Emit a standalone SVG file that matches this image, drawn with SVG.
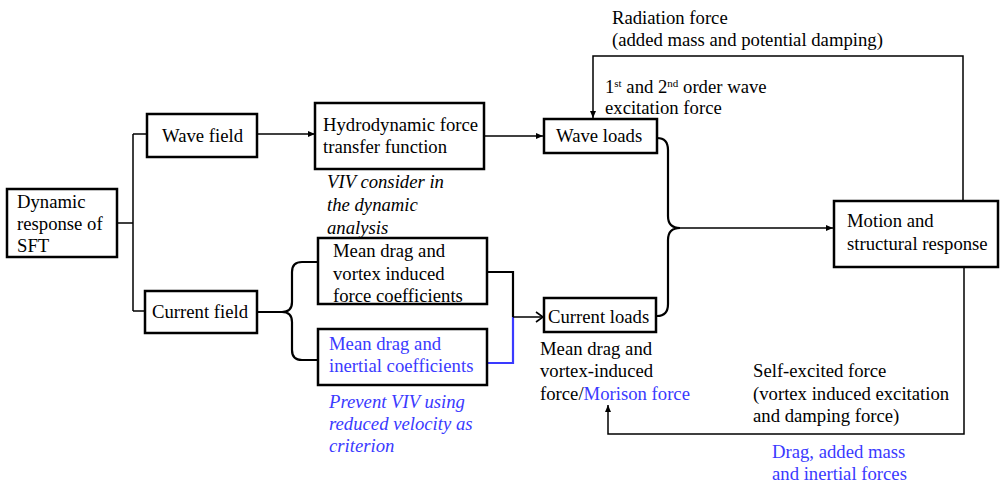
<svg xmlns="http://www.w3.org/2000/svg" width="1004" height="484" viewBox="0 0 1004 484">
<defs>
<style>
.box{fill:#fff;stroke:#000;stroke-width:2.5}
.t{font-size:18.7px;fill:#000}
.i{font-style:italic}
.b{fill:#3a3aff}
.c{fill:none;stroke:#000;stroke-width:1.5}
.br{fill:none;stroke:#000;stroke-width:2.2}
.bl{fill:none;stroke:#3a3aff;stroke-width:2.2}
</style>
<marker id="ah" markerWidth="8" markerHeight="8" refX="7" refY="4" orient="auto" markerUnits="userSpaceOnUse">
<path d="M0,1 L7,4 L0,7 Z" fill="#000"/>
</marker>
<marker id="oh" markerWidth="12" markerHeight="12" refX="10" refY="6" orient="auto" markerUnits="userSpaceOnUse">
<path d="M3,1 L10,6 L3,11" fill="none" stroke="#000" stroke-width="1.6"/>
</marker>
</defs>
<rect width="1004" height="484" fill="#fff"/>

<g id="connectors">
<path class="c" d="M117,223 L133,223 M133,134 L133,311 M133,134 L147,134 M133,311 L145,311"/>
<line class="c" x1="257" y1="134" x2="315" y2="134" marker-end="url(#ah)"/>
<line class="c" x1="484" y1="136" x2="543" y2="136" marker-end="url(#ah)"/>
<path class="br" d="M257,312 L282,312 Q292,312 292,302 L292,272 Q292,262 302,262 L318,262 M282,312 Q292,312 292,322 L292,350 Q292,360 302,360 L318,360"/>
<path class="br" d="M487,272 L513,272 L513,317"/>
<path class="bl" d="M487,363 L513,363 L513,317"/>
<line class="c" x1="513" y1="317" x2="543" y2="317" marker-end="url(#oh)"/>
<path class="br" d="M657,138 Q668,138 668,150 L668,216 Q668,228 680,228 M657,316 Q668,316 668,304 L668,240 Q668,228 680,228"/>
<line class="c" x1="680" y1="228" x2="833" y2="228" marker-end="url(#ah)"/>
<path class="c" d="M963,201 L963,56 L593,56 L593,118" marker-end="url(#ah)"/>
<path class="c" d="M964,267 L964,434 L608,434 L608,405" marker-end="url(#ah)"/>
</g>

<g font-family="Liberation Serif, Times New Roman, serif">
<g id="n-dynamic">
<rect class="box" x="7" y="189" width="110" height="68"/>
<text class="t" x="17" y="208">Dynamic</text>
<text class="t" x="17" y="230">response of</text>
<text class="t" x="17" y="252">SFT</text>
</g>
<g id="n-wavefield">
<rect class="box" x="147" y="114" width="110" height="43"/>
<text class="t" x="162" y="142">Wave field</text>
</g>
<g id="n-currentfield">
<rect class="box" x="145" y="291" width="112" height="42"/>
<text class="t" x="152" y="318">Current field</text>
</g>
<g id="n-hydro">
<rect class="box" x="315" y="103" width="169" height="66"/>
<text class="t" x="323" y="131">Hydrodynamic force</text>
<text class="t" x="323" y="153">transfer function</text>
</g>
<g id="n-viv">
<text class="t i" x="327" y="188">VIV consider in</text>
<text class="t i" x="327" y="211">the dynamic</text>
<text class="t i" x="327" y="234">analysis</text>
</g>
<g id="n-meandrag">
<rect class="box" x="318" y="238" width="169" height="66"/>
<text class="t" x="333" y="257">Mean drag and</text>
<text class="t" x="333" y="280">vortex induced</text>
<text class="t" x="333" y="302">force coefficients</text>
</g>
<g id="n-inertial">
<rect class="box" x="318" y="329" width="169" height="56"/>
<text class="t b" x="329" y="350">Mean drag and</text>
<text class="t b" x="329" y="372">inertial coefficients</text>
</g>
<g id="n-prevent">
<text class="t i b" x="329" y="408">Prevent VIV using</text>
<text class="t i b" x="329" y="430">reduced velocity as</text>
<text class="t i b" x="329" y="452">criterion</text>
</g>
<g id="n-waveloads">
<rect class="box" x="544" y="119" width="113" height="34"/>
<text class="t" x="556" y="142">Wave loads</text>
</g>
<g id="n-currentloads">
<rect class="box" x="544" y="298" width="112" height="34"/>
<text class="t" x="548" y="323">Current loads</text>
</g>
<g id="n-morison">
<text class="t" x="540" y="355">Mean drag and</text>
<text class="t" x="540" y="377">vortex-induced</text>
<text class="t" x="540" y="400">force/<tspan class="b">Morison force</tspan></text>
</g>
<g id="n-motion">
<rect class="box" x="834" y="201" width="164" height="66"/>
<text class="t" x="847" y="227">Motion and</text>
<text class="t" x="847" y="250">structural response</text>
</g>
<g id="n-radiation">
<text class="t" x="612" y="24">Radiation force</text>
<text class="t" x="612" y="46">(added mass and potential damping)</text>
</g>
<g id="n-excitation">
<text class="t" x="605" y="93">1<tspan font-size="11" dy="-6">st</tspan><tspan dy="6"> and 2</tspan><tspan font-size="11" dy="-6">nd</tspan><tspan dy="6"> order wave</tspan></text>
<text class="t" x="605" y="114">excitation force</text>
</g>
<g id="n-selfexcited">
<text class="t" x="753" y="377">Self-excited force</text>
<text class="t" x="753" y="400">(vortex induced excitation</text>
<text class="t" x="753" y="422">and damping force)</text>
</g>
<g id="n-drag">
<text class="t b" x="772" y="458">Drag, added mass</text>
<text class="t b" x="772" y="480">and inertial forces</text>
</g>
</g>
</svg>
